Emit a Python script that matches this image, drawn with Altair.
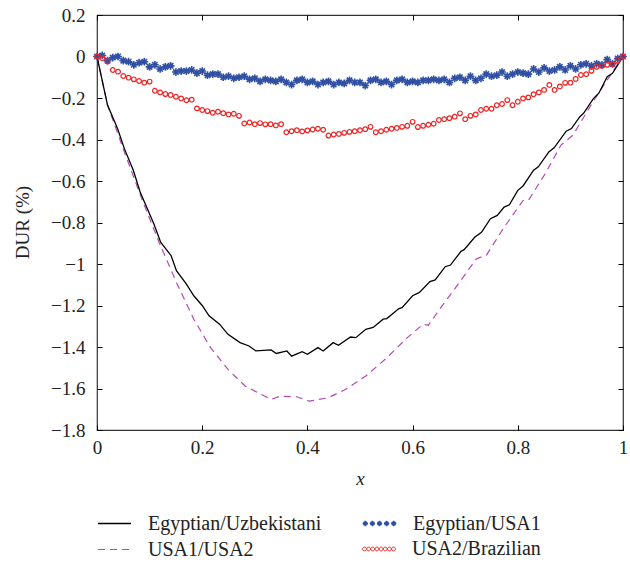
import altair as alt
import pandas as pd

# ---------------- data ----------------
s1_name = "Egyptian/Uzbekistani"
s1_x = [0, 0.02, 0.039, 0.052, 0.069, 0.082, 0.108, 0.121, 0.141, 0.151, 0.17, 0.184, 0.2, 0.213,
        0.233, 0.249, 0.272, 0.289, 0.302, 0.331, 0.341, 0.361, 0.37, 0.39, 0.4, 0.42, 0.43, 0.449,
        0.459, 0.482, 0.492, 0.511, 0.525, 0.544, 0.551, 0.574, 0.58, 0.6, 0.613, 0.633, 0.643,
        0.662, 0.672, 0.692, 0.698, 0.718, 0.731, 0.748, 0.761, 0.774, 0.784, 0.8, 0.81, 0.83,
        0.839, 0.859, 0.869, 0.892, 0.902, 0.918, 0.925, 0.944, 0.954, 0.97, 0.98, 1.0]
s1_y = [0, -0.234, -0.347, -0.444, -0.548, -0.653, -0.806, -0.895, -0.96, -1.032, -1.097, -1.153,
        -1.2, -1.25, -1.29, -1.339, -1.379, -1.395, -1.419, -1.414, -1.431, -1.419, -1.444, -1.423,
        -1.435, -1.403, -1.419, -1.379, -1.392, -1.352, -1.355, -1.315, -1.306, -1.266, -1.263,
        -1.215, -1.21, -1.153, -1.137, -1.085, -1.077, -1.013, -1.005, -0.939, -0.931, -0.871,
        -0.847, -0.782, -0.766, -0.726, -0.715, -0.645, -0.624, -0.548, -0.532, -0.46, -0.44,
        -0.36, -0.347, -0.29, -0.274, -0.202, -0.177, -0.097, -0.081, 0]

s2_name = "USA1/USA2"
s2_x = [0, 0.02, 0.052, 0.085, 0.118, 0.151, 0.184, 0.216, 0.249, 0.282, 0.331, 0.348, 0.38, 0.403,
        0.439, 0.472, 0.511, 0.551, 0.59, 0.62, 0.63, 0.656, 0.689, 0.721, 0.741, 0.774, 0.81, 0.82,
        0.852, 0.882, 0.905, 0.941, 0.97, 1.0]
s2_y = [0, -0.234, -0.46, -0.685, -0.895, -1.089, -1.266, -1.403, -1.508, -1.589, -1.653, -1.637,
        -1.64, -1.661, -1.645, -1.605, -1.54, -1.452, -1.355, -1.29, -1.295, -1.202, -1.089, -0.976,
        -0.955, -0.823, -0.694, -0.694, -0.565, -0.427, -0.379, -0.226, -0.113, 0]

grid_x = [i / 100 for i in range(101)]

s3_name = "Egyptian/USA1"
s3_y = [0, 0.005, -0.02, -0.005, 0, -0.02, -0.025, -0.04, -0.03, -0.025,
        -0.05, -0.04, -0.06, -0.05, -0.045, -0.075, -0.07, -0.07, -0.065, -0.08,
        -0.07, -0.09, -0.085, -0.085, -0.1, -0.095, -0.105, -0.1, -0.095, -0.11,
        -0.105, -0.12, -0.11, -0.115, -0.12, -0.11, -0.125, -0.135, -0.115, -0.11,
        -0.125, -0.12, -0.135, -0.125, -0.12, -0.135, -0.125, -0.13, -0.115, -0.125,
        -0.125, -0.14, -0.115, -0.11, -0.125, -0.12, -0.135, -0.115, -0.11, -0.125,
        -0.12, -0.125, -0.115, -0.115, -0.11, -0.115, -0.11, -0.125, -0.105, -0.1,
        -0.115, -0.095, -0.115, -0.105, -0.085, -0.095, -0.09, -0.075, -0.095, -0.085,
        -0.075, -0.08, -0.085, -0.06, -0.075, -0.055, -0.07, -0.065, -0.05, -0.065,
        -0.045, -0.06, -0.04, -0.035, -0.045, -0.035, -0.04, -0.015, -0.035, -0.01, 0]

s4_name = "USA2/Brazilian"
s4_y = [0, -0.008, -0.024,
        -0.065, -0.073, -0.094, -0.102, -0.11, -0.118, -0.126, -0.121,
        -0.165, -0.173, -0.181, -0.185, -0.194, -0.202, -0.211, -0.208,
        -0.25, -0.258, -0.263, -0.271, -0.266, -0.273, -0.279, -0.276, -0.286,
        -0.323, -0.318, -0.326, -0.321, -0.327, -0.326, -0.332, -0.326,
        -0.365, -0.36, -0.355, -0.361, -0.356, -0.352, -0.348, -0.353,
        -0.381, -0.376, -0.373, -0.368, -0.363, -0.36, -0.355, -0.35, -0.339,
        -0.365, -0.36, -0.353, -0.348, -0.344, -0.339, -0.334, -0.315,
        -0.34, -0.334, -0.329, -0.324, -0.306, -0.302, -0.297, -0.29, -0.274,
        -0.302, -0.286, -0.279, -0.258, -0.252, -0.252, -0.235, -0.229, -0.21,
        -0.235, -0.218, -0.202, -0.197, -0.182, -0.173, -0.161, -0.137,
        -0.161, -0.144, -0.127, -0.126, -0.108, -0.089, -0.085, -0.069, -0.05,
        -0.045, -0.04, -0.037, -0.021, 0]

y_ticks = [0.2, 0, -0.2, -0.4, -0.6, -0.8, -1, -1.2, -1.4, -1.6, -1.8]
x_ticks = [0, 0.2, 0.4, 0.6, 0.8, 1]

# ---------------- styling ----------------
FONT = "Liberation Serif"
W, H = 526, 415
C_BLACK = "#000000"
C_MAG = "#b548b5"
C_BLUE = "#2f4fa3"
C_RED = "#ee2424"

STAR = ("M-1,0L1,0M0,-1L0,1M-0.7,-0.7L0.7,0.7M-0.7,0.7L0.7,-0.7")


def star_row(centers, r):
    parts = []
    for c in centers:
        b = r * 0.7
        parts.append(f"M{c-r:.3f},0L{c+r:.3f},0M{c:.3f},{-r:.3f}L{c:.3f},{r:.3f}"
                     f"M{c-b:.3f},{-b:.3f}L{c+b:.3f},{b:.3f}M{c-b:.3f},{b:.3f}L{c+b:.3f},{-b:.3f}")
    return "".join(parts)


def circle_row(centers, r):
    parts = []
    for c in centers:
        parts.append(f"M{c-r:.3f},0a{r},{r} 0 1,0 {2*r:.3f},0a{r},{r} 0 1,0 {-2*r:.3f},0")
    return "".join(parts)


LEG_STARS = star_row([-0.86, -0.43, 0, 0.43, 0.86], 0.16)
LEG_CIRCS = circle_row([-0.88 + i * 0.2514 for i in range(8)], 0.115)

LEG_SIZE = 1089


def leg(x, y, stype, **kw):
    return alt.Legend(orient="none", legendX=x, legendY=y, title=None, padding=0,
                      symbolType=stype, symbolSize=LEG_SIZE, symbolOffset=0,
                      labelFont=FONT, labelFontSize=20, labelColor="#222",
                      labelOffset=16, labelLimit=400, **kw)


df1 = pd.DataFrame({"x": s1_x, "y": s1_y, "s": s1_name})
df2 = pd.DataFrame({"x": s2_x, "y": s2_y, "s": s2_name})
df3 = pd.DataFrame({"x": grid_x, "y": s3_y, "s": s3_name})
df4 = pd.DataFrame({"x": grid_x, "y": s4_y, "s": s4_name})

xscale = alt.Scale(domain=[0, 1], nice=False, zero=False)
yscale = alt.Scale(domain=[-1.8, 0.2], nice=False, zero=False)

axis_common = dict(domain=False, grid=False, tickSize=5, tickColor="#000", tickWidth=1,
                   offset=-5, labelFont=FONT, labelFontSize=19, labelColor="#222",
                   titleFont=FONT, titleFontSize=19, titleColor="#222", titleFontWeight="normal",
                   format="~g")

x_bottom = alt.Axis(orient="bottom", values=x_ticks, labelPadding=8, title="x",
                    titleFontStyle="italic", titleX=263, titleY=53, titleBaseline="middle",
                    titleAlign="center", labelFlush=False, **axis_common)
y_left = alt.Axis(orient="left", values=y_ticks, labelPadding=12, title="DUR (%)",
                  titleX=-80, titleY=207, titleAngle=270, titleBaseline="middle",
                  titleAlign="center", labelFlush=False, **axis_common)
x_top = alt.Axis(orient="top", values=x_ticks, labels=False, title=None, **axis_common)
y_right = alt.Axis(orient="right", values=y_ticks, labels=False, title=None, **axis_common)

l1 = alt.Chart(df1).mark_line(strokeWidth=1.3).encode(
    x=alt.X("x:Q", scale=xscale, axis=x_bottom),
    y=alt.Y("y:Q", scale=yscale, axis=y_left),
    color=alt.Color("s:N", scale=alt.Scale(domain=[s1_name], range=[C_BLACK]),
                    legend=leg(0, 491, "M-1,0L1,0", symbolStrokeWidth=1.3)),
)

l2 = alt.Chart(df2).mark_line(strokeWidth=1.2, strokeDash=[7, 5]).encode(
    x=alt.X("x:Q", scale=xscale, axis=x_top),
    y=alt.Y("y:Q", scale=yscale, axis=y_right),
    color=alt.Color("s:N", scale=alt.Scale(domain=[s2_name], range=[C_MAG]),
                    legend=leg(0, 517, "M-1,0L1,0", symbolStrokeWidth=1.2, symbolDash=[7, 5])),
)

l3 = alt.Chart(df3).mark_point(shape=STAR, size=60, strokeWidth=1.6, filled=False, opacity=1).encode(
    x=alt.X("x:Q", scale=xscale, axis=None),
    y=alt.Y("y:Q", scale=yscale, axis=None),
    color=alt.Color("s:N", scale=alt.Scale(domain=[s3_name], range=[C_BLUE]),
                    legend=leg(265, 491, LEG_STARS, symbolStrokeWidth=1.4)),
)

l4 = alt.Chart(df4).mark_point(shape="circle", size=22, strokeWidth=1.2, filled=False, opacity=1).encode(
    x=alt.X("x:Q", scale=xscale, axis=None),
    y=alt.Y("y:Q", scale=yscale, axis=None),
    color=alt.Color("s:N", scale=alt.Scale(domain=[s4_name], range=[C_RED]),
                    legend=leg(265, 517, LEG_CIRCS, symbolStrokeWidth=1.0)),
)

chart = (
    alt.layer(l2, l1, l3, l4)
    .resolve_scale(color="independent")
    .resolve_axis(x="independent", y="independent")
    .properties(width=W, height=H,
                autosize=alt.AutoSizeParams(type="none"),
                padding={"left": 97, "top": 15, "right": 7, "bottom": 133},
                background="white")
    .configure_view(stroke="#333", strokeWidth=1.2)
)

chart.save("out.html", embed_options={"renderer": "svg", "actions": False})
